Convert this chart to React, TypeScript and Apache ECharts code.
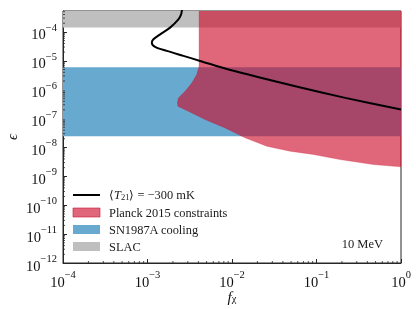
import React, { useEffect, useRef } from 'react';
import * as echarts from 'echarts';

// Black curve <T21> = -300 mK
const lineX = [2.6e-3, 2.55e-3, 2.5e-3, 2.32e-3, 1.85e-3, 1.41e-3, 1.175e-3, 1.125e-3, 1.23e-3, 1.69e-3, 2.66e-3, 4.2e-3, 9.1e-3, 0.0561, 0.219, 1.0];
const lineY = [1e-3, 5.5e-4, 4.07e-4, 2.73e-4, 1.41e-4, 8.26e-5, 5.55e-5, 4.26e-5, 3.03e-5, 2.2e-5, 1.48e-5, 9.9e-6, 4.97e-6, 1.31e-6, 5.2e-7, 2.05e-7];

// Planck 2015 excluded region (polygon)
const planckX = [4.08e-3, 1, 1, 0.475, 0.191, 0.0925, 0.049, 0.0259, 0.0143, 8.3e-3, 4.81e-3, 3.05e-3, 2.29e-3, 2.26e-3, 2.32e-3, 2.79e-3, 3.35e-3, 3.83e-3, 4.08e-3];
const planckY = [1e-3, 1e-3, 2.14e-9, 2.56e-9, 3.8e-9, 5.7e-9, 7.4e-9, 1.1e-8, 2.15e-8, 4.76e-8, 9.2e-8, 1.79e-7, 2.67e-7, 3.49e-7, 5.2e-7, 8.8e-7, 1.72e-6, 3.33e-6, 6.4e-6];

// SN1987A cooling band (x range, eps range)
const snX = [1e-4, 1];
const snY = [2.44e-8, 5.96e-6];

// SLAC band
const slacX = [1e-4, 1];
const slacY = [1.41e-4, 1e-3];

// axes
const xMin = 1e-4, xMax = 1;
const yMin = 1e-12, yMax = 5.3e-4;
const xMinorExp = [-4, -3, -2, -1];
const yMinorExp = [-12, -11, -10, -9, -8, -7, -6, -5, -4];
const minorMult = [2, 3, 4, 5, 6, 7, 8, 9];

const lineName = '⟨T21⟩ = −300 mK';
const planckName = 'Planck 2015 constraints';
const snName = 'SN1987A cooling';
const slacName = 'SLAC';

const FONT = 'Liberation Serif';
const AX = '#262626';

function supLabel(v: number) {
  const e = Math.log10(v);
  const r = Math.round(e);
  if (Math.abs(e - r) > 1e-6) return '';
  const s = r < 0 ? '−' + Math.abs(r) : String(r);
  return `{b|10}{s|${s}}`;
}
const labelRich = {
  b: { fontSize: 14.5, lineHeight: 20, verticalAlign: 'bottom', fontFamily: FONT, color: '#111' },
  s: { fontSize: 10.5, lineHeight: 12, verticalAlign: 'top', fontFamily: FONT, color: '#111' },
};

function rectSeries(name: string, xs: number[], ys: number[], color: string, z: number) {
  return {
    type: 'custom',
    name,
    z,
    clip: true,
    itemStyle: { color },
    data: [[xs[0], ys[0]]],
    renderItem: (_p: any, api: any) => {
      const a = api.coord([xs[0], ys[0]]);
      const b = api.coord([xs[1], ys[1]]);
      return {
        type: 'rect',
        shape: { x: Math.min(a[0], b[0]), y: Math.min(a[1], b[1]), width: Math.abs(b[0] - a[0]), height: Math.abs(b[1] - a[1]) },
        style: { fill: color },
      };
    },
  };
}

const yMinor: number[][] = [];
yMinorExp.forEach((e) => minorMult.forEach((m) => { const v = m * Math.pow(10, e); if (v < yMax) yMinor.push([xMin, v]); }));
const xMinor: number[][] = [];
xMinorExp.forEach((e) => minorMult.forEach((m) => { xMinor.push([m * Math.pow(10, e), yMin]); }));

const planckColor = 'rgba(205,10,40,0.62)';

const option: any = {
  animation: false,
  textStyle: { fontFamily: FONT },
  grid: { left: 63, right: 15, top: 11, bottom: 46, containLabel: false, outerBoundsMode: 'none', show: true, borderColor: AX, borderWidth: 1, backgroundColor: 'transparent' },
  xAxis: {
    type: 'log',
    logBase: 10,
    min: xMin,
    max: xMax,
    name: '{i|f}{sub|χ}',
    nameLocation: 'middle',
    nameGap: 26,
    nameMoveOverlap: false,
    nameTextStyle: {
      rich: {
        i: { fontSize: 15, fontStyle: 'italic', fontFamily: FONT, color: '#111', lineHeight: 15, verticalAlign: 'top' },
        sub: { fontSize: 10.5, fontFamily: FONT, color: '#111', lineHeight: 11, verticalAlign: 'bottom' },
      },
    },
    splitLine: { show: false },
    axisLine: { lineStyle: { color: AX, width: 1 } },
    axisTick: { inside: true, length: 4, lineStyle: { color: AX } },
    axisLabel: { margin: 6, formatter: supLabel, rich: labelRich },
  },
  yAxis: {
    type: 'log',
    logBase: 10,
    min: yMin,
    max: yMax,
    name: 'ϵ',
    nameLocation: 'middle',
    nameGap: 44,
    nameMoveOverlap: false,
    nameRotate: 90,
    nameTextStyle: { fontSize: 15, fontStyle: 'italic', fontFamily: FONT, color: '#111' },
    splitLine: { show: false },
    axisLine: { lineStyle: { color: AX, width: 1 } },
    axisTick: { inside: true, length: 4, lineStyle: { color: AX } },
    axisLabel: { margin: 6, formatter: supLabel, rich: labelRich },
  },
  legend: {
    orient: 'vertical',
    left: 72,
    top: 189,
    padding: 0,
    itemGap: 5,
    itemWidth: 27,
    itemHeight: 9,
    data: [
      { name: lineName, itemStyle: { opacity: 0 } },
      { name: planckName, icon: 'rect', itemStyle: { borderColor: 'rgba(200,20,50,0.75)', borderWidth: 0.8 } },
      { name: snName, icon: 'rect' },
      { name: slacName, icon: 'rect' },
    ],
    formatter: (n: string) => (n === lineName ? '{n|⟨}{i|T}{sub|21}{n|⟩ = −300 mK}' : `{n|${n}}`),
    textStyle: {
      padding: [0, 0, 0, 4],
      rich: {
        n: { fontSize: 12.4, lineHeight: 13, fontFamily: FONT, color: '#1a1a1a' },
        i: { fontSize: 12.4, lineHeight: 13, fontStyle: 'italic', fontFamily: FONT, color: '#1a1a1a' },
        sub: { fontSize: 8.5, lineHeight: 9, verticalAlign: 'bottom', fontFamily: FONT, color: '#1a1a1a' },
      },
    },
  },
  graphic: [
    { type: 'text', right: 33, top: 237, style: { text: '10 MeV', font: `12.5px "${FONT}"`, fill: '#1a1a1a' } },
  ],
  series: [
    rectSeries(snName, snX, snY, '#67a9cf', 1),
    rectSeries(slacName, slacX, slacY, '#bfbfbf', 1),
    {
      type: 'custom',
      name: planckName,
      z: 2,
      clip: true,
      itemStyle: { color: planckColor },
      data: [[planckX[0], planckY[0]]],
      renderItem: (_p: any, api: any) => {
        const pts = planckX.map((x, i) => api.coord([x, planckY[i]]));
        return { type: 'polygon', shape: { points: pts }, style: { fill: planckColor, stroke: 'rgba(205,10,40,0.35)', lineWidth: 0.8 } };
      },
    },
    {
      type: 'line',
      name: lineName,
      z: 5,
      data: lineX.map((x, i) => [x, lineY[i]]),
      smooth: 0.3,
      showSymbol: false,
      symbol: 'none',
      lineStyle: { color: '#000', width: 2 },
      itemStyle: { color: '#000' },
      clip: true,
    },
    {
      type: 'custom',
      name: 'yminor',
      z: 6,
      silent: true,
      data: yMinor,
      renderItem: (_p: any, api: any) => {
        const p = api.coord([api.value(0), api.value(1)]);
        return { type: 'line', shape: { x1: p[0], y1: p[1], x2: p[0] + 2, y2: p[1] }, style: { stroke: AX, lineWidth: 0.8 } };
      },
    },
    {
      type: 'custom',
      name: 'xminor',
      z: 6,
      silent: true,
      data: xMinor,
      renderItem: (_p: any, api: any) => {
        const p = api.coord([api.value(0), api.value(1)]);
        return { type: 'line', shape: { x1: p[0], y1: p[1], x2: p[0], y2: p[1] - 2 }, style: { stroke: AX, lineWidth: 0.8 } };
      },
    },
  ],
};

export default function App() {
  const ref = useRef<HTMLDivElement>(null);
  useEffect(() => {
    const chart = echarts.init(ref.current!, null, { renderer: 'svg' });
    chart.setOption(option);
    return () => chart.dispose();
  }, []);
  return <div ref={ref} style={{ position: 'fixed', left: 0, top: 0, width: 416, height: 309 }} />;
}
